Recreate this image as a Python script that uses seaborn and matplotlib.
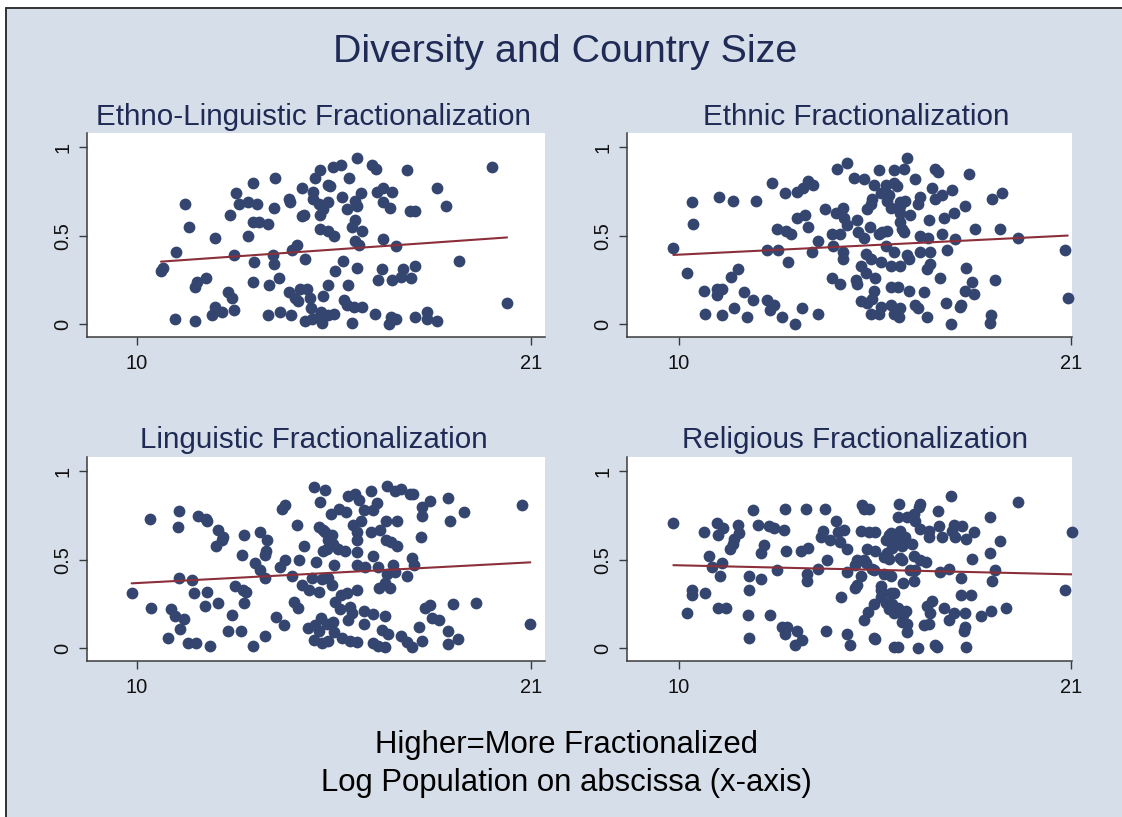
import matplotlib
matplotlib.use("Agg")
import matplotlib.pyplot as plt
from matplotlib.patches import Rectangle
from matplotlib.lines import Line2D
import seaborn as sns

# ---------------- data ----------------
elf_x = [10.67, 10.72, 11.08, 11.33, 11.44, 11.07, 11.63, 11.67, 11.63, 11.93,
         12.19, 12.08, 12.19, 12.36, 12.54, 12.65, 12.72, 12.72, 12.59, 12.77,
         12.84, 13.10, 13.35, 13.24, 13.10, 13.24, 13.40, 13.66, 13.24, 13.28,
         13.66, 13.68, 13.79, 13.83, 13.83, 13.86, 13.96, 14.00, 14.30, 14.23,
         14.28, 14.33, 14.48, 14.25, 14.42, 14.56, 14.75, 14.84, 14.50, 14.60,
         14.65, 14.62, 14.68, 14.70, 14.89, 15.07, 15.16, 14.87, 14.90, 14.90,
         15.07, 15.10, 15.10, 14.96, 15.10, 15.20, 19.91, 20.33, 19.00, 18.37,
         18.62, 17.53, 17.63, 17.75, 17.75, 17.43, 17.37, 17.13, 17.66, 16.88,
         17.22, 16.85, 16.74, 16.69, 16.88, 17.11, 16.88, 17.06, 16.65, 17.04,
         17.09, 17.22, 17.75, 18.10, 18.10, 18.37, 16.13, 16.57, 16.67, 15.93,
         15.48, 15.69, 15.33, 15.39, 15.73, 16.25, 16.09, 16.13, 15.85, 15.34,
         15.20, 16.09, 16.00, 16.27, 15.34, 15.51, 16.09, 16.20, 15.76, 15.53,
         16.13, 15.33, 15.88, 15.79, 15.85, 16.07, 16.28, 15.14, 15.34, 15.51,
         16.00]
elf_y = [0.30, 0.32, 0.41, 0.68, 0.55, 0.03, 0.02, 0.24, 0.21, 0.26,
         0.49, 0.05, 0.10, 0.07, 0.18, 0.15, 0.08, 0.39, 0.62, 0.74,
         0.68, 0.69, 0.68, 0.80, 0.50, 0.58, 0.58, 0.57, 0.24, 0.35,
         0.055, 0.22, 0.39, 0.34, 0.66, 0.83, 0.26, 0.07, 0.05, 0.71,
         0.69, 0.42, 0.45, 0.18, 0.15, 0.20, 0.20, 0.15, 0.13, 0.61,
         0.62, 0.77, 0.37, 0.02, 0.03, 0.04, 0.01, 0.09, 0.75, 0.71,
         0.68, 0.62, 0.54, 0.83, 0.87, 0.16, 0.89, 0.12, 0.36, 0.77,
         0.67, 0.87, 0.64, 0.64, 0.33, 0.31, 0.27, 0.25, 0.26, 0.48,
         0.44, 0.31, 0.25, 0.75, 0.77, 0.75, 0.69, 0.66, 0.06, 0.00,
         0.04, 0.03, 0.04, 0.07, 0.03, 0.02, 0.94, 0.90, 0.88, 0.83,
         0.89, 0.90, 0.79, 0.78, 0.72, 0.74, 0.70, 0.67, 0.65, 0.69,
         0.65, 0.59, 0.55, 0.53, 0.53, 0.50, 0.47, 0.45, 0.36, 0.30,
         0.32, 0.22, 0.22, 0.14, 0.11, 0.10, 0.10, 0.07, 0.05, 0.06,
         0.01]

eth_x = [9.84, 10.36, 10.38, 10.22, 10.71, 10.74, 11.06, 11.20, 11.06, 11.20,
         11.45, 11.64, 11.53, 11.12, 11.50, 11.81, 12.06, 11.90, 12.15, 12.46,
         12.65, 12.55, 12.89, 13.26, 13.45, 13.89, 12.46, 12.77, 13.05, 12.74,
         13.00, 13.15, 12.62, 12.98, 13.30, 13.47, 13.61, 13.75, 13.32, 13.54,
         13.63, 13.73, 13.89, 14.10, 14.29, 14.50, 14.32, 14.60, 14.60, 14.29,
         14.52, 14.42, 14.71, 14.40, 14.60, 14.50, 14.70, 20.90, 20.82, 19.51,
         19.00, 18.78, 19.06, 18.29, 18.85, 18.06, 18.22, 18.01, 18.27, 17.91,
         17.89, 18.74, 18.71, 18.13, 18.01, 17.71, 17.66, 17.38, 17.19, 17.10,
         17.19, 17.26, 17.43, 17.00, 17.38, 17.75, 17.52, 17.05, 16.77, 17.33,
         17.05, 16.96, 16.88, 16.63, 16.69, 16.96, 17.50, 17.63, 16.77, 16.99,
         16.77, 16.71, 16.49, 16.61, 16.40, 16.30, 16.02, 15.60, 14.92, 15.20,
         15.46, 15.79, 16.02, 16.11, 15.41, 15.65, 15.88, 15.37, 15.27, 15.83,
         16.19, 16.35, 15.93, 16.19, 16.20, 14.62, 14.98, 15.36, 16.20, 16.25,
         16.30, 15.01, 15.18, 15.60, 15.69, 15.82, 15.79, 16.02, 15.23, 15.39,
         15.65, 15.93, 16.19, 16.40, 16.45, 15.09, 15.23, 14.95, 15.00, 15.50,
         15.93, 16.13, 16.45, 15.46, 15.41, 15.09, 15.27, 15.65, 15.93, 15.37,
         15.60, 16.02, 16.16, 16.21]
eth_y = [0.43, 0.69, 0.57, 0.29, 0.19, 0.06, 0.20, 0.20, 0.165, 0.05,
         0.265, 0.31, 0.09, 0.72, 0.70, 0.18, 0.14, 0.04, 0.70, 0.14,
         0.11, 0.08, 0.04, 0.00, 0.09, 0.06, 0.42, 0.42, 0.35, 0.54,
         0.53, 0.51, 0.80, 0.74, 0.75, 0.77, 0.81, 0.79, 0.60, 0.62,
         0.55, 0.41, 0.47, 0.65, 0.51, 0.51, 0.44, 0.41, 0.37, 0.26,
         0.225, 0.88, 0.91, 0.63, 0.66, 0.63, 0.56, 0.15, 0.42, 0.49,
         0.54, 0.71, 0.74, 0.54, 0.25, 0.32, 0.24, 0.19, 0.17, 0.11,
         0.10, 0.05, 0.01, 0.85, 0.67, 0.63, 0.76, 0.73, 0.71, 0.77,
         0.88, 0.86, 0.60, 0.59, 0.51, 0.48, 0.42, 0.41, 0.41, 0.26,
         0.34, 0.31, 0.18, 0.11, 0.09, 0.04, 0.12, 0.00, 0.50, 0.49,
         0.72, 0.68, 0.62, 0.82, 0.94, 0.88, 0.87, 0.87, 0.83, 0.82,
         0.79, 0.79, 0.80, 0.78, 0.71, 0.74, 0.73, 0.68, 0.65, 0.70,
         0.69, 0.70, 0.66, 0.67, 0.63, 0.60, 0.59, 0.55, 0.58, 0.54,
         0.52, 0.52, 0.49, 0.51, 0.52, 0.53, 0.44, 0.41, 0.40, 0.37,
         0.35, 0.33, 0.33, 0.39, 0.37, 0.33, 0.29, 0.25, 0.23, 0.26,
         0.21, 0.21, 0.19, 0.19, 0.145, 0.13, 0.12, 0.10, 0.11, 0.06,
         0.06, 0.06, 0.04, 0.09]

lng_x = [9.85, 10.36, 10.39, 10.86, 10.95, 11.06, 11.32, 11.20, 11.18, 11.14,
         11.17, 11.53, 11.60, 11.96, 11.90, 12.27, 11.43, 11.65, 12.05, 11.69,
         11.94, 11.96, 12.27, 12.41, 12.37, 12.20, 12.64, 12.53, 12.89, 13.23,
         13.56, 12.94, 13.00, 13.42, 13.62, 13.60, 13.58, 13.30, 13.44, 13.56,
         12.74, 12.97, 13.04, 12.98, 13.87, 14.09, 13.99, 14.13, 14.04, 14.13,
         14.46, 14.32, 14.37, 14.49, 14.52, 14.67, 14.60, 14.80, 15.07, 14.88,
         15.16, 14.95, 15.11, 15.07, 15.18, 15.00, 15.20, 14.77, 14.97, 15.14,
         15.07, 14.95, 15.16, 15.25, 20.74, 20.98, 19.47, 18.81, 19.14, 18.74,
         18.68, 18.17, 17.97, 17.97, 17.93, 17.67, 17.72, 17.53, 17.62, 17.70,
         17.20, 17.36, 16.97, 16.54, 16.69, 16.60, 16.35, 16.96, 17.25, 16.79,
         16.54, 16.96, 17.10, 17.25, 16.58, 16.74, 17.16, 17.20, 16.97, 16.93,
         16.76, 17.07, 18.03, 18.19, 18.23, 18.42, 17.88, 17.95, 18.68, 18.96,
         18.68, 17.37, 17.53, 17.67, 16.83, 17.02, 16.93, 16.93, 16.35, 16.60,
         16.35, 16.60, 16.72, 16.13, 15.86, 15.70, 15.53, 15.67, 15.95, 15.99,
         15.90, 16.13, 16.37, 15.49, 15.34, 15.43, 15.25, 15.44, 15.34, 15.48,
         15.30, 15.62, 15.81, 16.13, 15.42, 15.64, 15.83, 16.04, 16.13, 16.25,
         16.13, 15.88, 16.09, 16.20, 15.30, 15.48, 15.49, 15.34, 15.72, 15.95,
         16.13]
lng_y = [0.31, 0.73, 0.23, 0.06, 0.22, 0.18, 0.165, 0.11, 0.775, 0.685,
         0.395, 0.385, 0.315, 0.32, 0.24, 0.255, 0.03, 0.03, 0.015, 0.75,
         0.73, 0.72, 0.67, 0.63, 0.61, 0.58, 0.19, 0.095, 0.095, 0.015,
         0.07, 0.53, 0.64, 0.66, 0.61, 0.55, 0.53, 0.48, 0.44, 0.40,
         0.35, 0.33, 0.32, 0.255, 0.175, 0.13, 0.46, 0.50, 0.79, 0.81,
         0.70, 0.41, 0.26, 0.23, 0.50, 0.58, 0.36, 0.33, 0.32, 0.395,
         0.39, 0.91, 0.83, 0.685, 0.67, 0.49, 0.55, 0.114, 0.13, 0.17,
         0.095, 0.045, 0.03, 0.895, 0.81, 0.14, 0.255, 0.25, 0.77, 0.72,
         0.85, 0.835, 0.80, 0.75, 0.63, 0.51, 0.47, 0.41, 0.87, 0.87,
         0.89, 0.90, 0.92, 0.89, 0.82, 0.78, 0.78, 0.72, 0.72, 0.67,
         0.66, 0.61, 0.60, 0.58, 0.52, 0.46, 0.47, 0.43, 0.42, 0.37,
         0.34, 0.34, 0.23, 0.245, 0.17, 0.16, 0.12, 0.04, 0.095, 0.055,
         0.025, 0.07, 0.035, 0.01, 0.105, 0.08, 0.01, 0.18, 0.21, 0.195,
         0.14, 0.03, 0.015, 0.33, 0.31, 0.30, 0.26, 0.22, 0.235, 0.20,
         0.16, 0.47, 0.46, 0.47, 0.40, 0.36, 0.66, 0.64, 0.61, 0.59,
         0.56, 0.56, 0.55, 0.545, 0.76, 0.79, 0.77, 0.70, 0.66, 0.72,
         0.61, 0.86, 0.87, 0.84, 0.14, 0.146, 0.09, 0.04, 0.058, 0.04,
         0.034]

rel_x = [9.84, 10.22, 10.36, 10.36, 10.73, 10.71, 10.85, 10.92, 11.20, 11.15,
         11.06, 11.23, 11.10, 11.64, 11.67, 11.53, 11.51, 11.44, 11.10, 11.32,
         11.93, 11.97, 11.97, 11.97, 12.29, 12.06, 12.21, 12.51, 12.65, 12.95,
         12.39, 12.29, 12.74, 12.98, 13.00, 12.56, 12.88, 13.04, 12.98, 13.30,
         13.45, 13.26, 13.42, 13.63, 13.57, 13.59, 13.60, 13.89, 14.10, 14.13,
         14.05, 13.98, 14.24, 14.15, 14.41, 14.47, 14.62, 14.54, 14.71, 14.71,
         14.78, 14.50, 14.70, 21.01, 20.82, 19.51, 19.00, 18.72, 18.72, 18.85,
         18.78, 19.18, 18.74, 18.46, 18.22, 18.27, 18.04, 17.94, 17.71, 17.75,
         17.66, 17.64, 17.26, 17.28, 17.38, 17.00, 17.00, 17.92, 18.19, 17.91,
         17.57, 17.31, 17.44, 17.70, 18.03, 17.57, 18.01, 17.99, 18.06, 17.24,
         17.19, 16.70, 17.10, 16.96, 17.05, 17.00, 16.86, 16.77, 16.72, 16.16,
         16.13, 16.40, 16.60, 16.63, 16.77, 16.54, 16.60, 16.77, 16.93, 16.63,
         16.58, 16.28, 16.49, 16.21, 16.26, 16.04, 16.13, 16.37, 16.28, 16.24,
         16.40, 16.40, 16.13, 16.02, 15.46, 15.50, 15.18, 15.30, 15.46, 15.79,
         15.88, 16.02, 15.65, 15.67, 15.93, 14.94, 14.98, 14.94, 15.09, 15.46,
         15.74, 15.93, 15.23, 14.98, 15.18, 15.41, 15.27, 15.50, 15.74, 15.83,
         15.88, 15.97, 15.09, 15.32, 15.50, 15.88, 16.07, 16.21, 16.35, 15.79,
         16.26, 15.93, 16.19, 15.13, 15.32, 15.18, 15.65, 15.97]
rel_y = [0.71, 0.20, 0.33, 0.30, 0.31, 0.66, 0.52, 0.46, 0.48, 0.41,
         0.71, 0.68, 0.64, 0.70, 0.65, 0.62, 0.59, 0.56, 0.23, 0.23,
         0.19, 0.06, 0.41, 0.33, 0.39, 0.78, 0.70, 0.69, 0.68, 0.67,
         0.585, 0.54, 0.44, 0.79, 0.55, 0.19, 0.12, 0.12, 0.08, 0.10,
         0.045, 0.017, 0.55, 0.57, 0.79, 0.42, 0.38, 0.45, 0.79, 0.10,
         0.665, 0.63, 0.61, 0.50, 0.72, 0.66, 0.67, 0.29, 0.43, 0.083,
         0.017, 0.60, 0.56, 0.66, 0.33, 0.825, 0.605, 0.74, 0.54, 0.44,
         0.38, 0.23, 0.21, 0.18, 0.505, 0.655, 0.62, 0.69, 0.70, 0.63,
         0.665, 0.86, 0.775, 0.69, 0.63, 0.63, 0.665, 0.40, 0.30, 0.30,
         0.45, 0.43, 0.23, 0.20, 0.20, 0.16, 0.12, 0.10, 0.01, 0.01,
         0.017, 0.004, 0.27, 0.24, 0.20, 0.14, 0.13, 0.815, 0.80, 0.815,
         0.74, 0.74, 0.76, 0.72, 0.675, 0.59, 0.52, 0.50, 0.49, 0.44,
         0.38, 0.37, 0.44, 0.51, 0.50, 0.31, 0.23, 0.21, 0.19, 0.15,
         0.14, 0.09, 0.008, 0.01, 0.06, 0.05, 0.16, 0.205, 0.25, 0.255,
         0.22, 0.20, 0.355, 0.33, 0.31, 0.34, 0.36, 0.47, 0.41, 0.44,
         0.42, 0.41, 0.48, 0.50, 0.50, 0.45, 0.56, 0.55, 0.515, 0.54,
         0.505, 0.57, 0.665, 0.655, 0.655, 0.64, 0.62, 0.61, 0.63, 0.61,
         0.58, 0.65, 0.665, 0.81, 0.79, 0.79, 0.29, 0.25]

panel_titles = ["Ethno-Linguistic Fractionalization", "Ethnic Fractionalization",
                "Linguistic Fractionalization", "Religious Fractionalization"]
main_title = "Diversity and Country Size"
note_lines = ["Higher=More Fractionalized", "Log Population on abscissa (x-axis)"]
x_ticks = [10, 21]
y_ticks = [0, 0.5, 1]
y_tick_labels = ["0", "0.5", "1"]

# ---------------- style ----------------
sns.set_style("white")
plt.rcParams["font.family"] = ["Liberation Sans", "DejaVu Sans"]

BG = "#d6deea"
DOT = "#34466f"
FIT = "#8b2f3a"
TITLE_C = "#1f2a55"
AX_C = "#3a3a3a"

W, H = 1122, 817
fig = plt.figure(figsize=(W / 100, H / 100), dpi=100, facecolor="white")

# graph region background + border (left & top)
fig.patches.append(Rectangle((5.5 / W, 0), 1, 1 - 7.5 / H, transform=fig.transFigure,
                             facecolor=BG, edgecolor="none", zorder=-10))
fig.lines.append(Line2D([5.5 / W, 5.5 / W], [0, 1 - 7.5 / H], transform=fig.transFigure,
                        color="#333333", lw=1.4, zorder=-5))
fig.lines.append(Line2D([5.5 / W, 1], [1 - 7.5 / H, 1 - 7.5 / H], transform=fig.transFigure,
                        color="#333333", lw=1.4, zorder=-5))

def ax_rect(l, r, t, b):
    return [l / W, 1 - b / H, (r - l) / W, (b - t) / H]

panels = [
    (elf_x, elf_y, ax_rect(87, 545, 133, 337), (8.604, 21.39), (313, 117)),
    (eth_x, eth_y, ax_rect(627, 1072, 133, 337), (8.54, 21.02), (856, 117)),
    (lng_x, lng_y, ax_rect(87, 545, 457, 661), (8.604, 21.39), (314, 440)),
    (rel_x, rel_y, ax_rect(627, 1072, 457, 661), (8.54, 21.02), (855, 440)),
]

for (xs, ys, rect, xl, tpos), ttl in zip(panels, panel_titles):
    ax = fig.add_axes(rect)
    ax.set_zorder(1)
    ax.set_facecolor("white")
    sns.regplot(x=xs, y=ys, ax=ax, ci=None,
                scatter_kws=dict(s=72, color=DOT, linewidths=0, alpha=1, zorder=2,
                                 clip_on=False),
                line_kws=dict(color=FIT, lw=1.5, zorder=3))
    ax.set_xlim(*xl)
    ax.set_ylim(-0.072, 1.082)
    ax.set_xticks(x_ticks)
    ax.set_xticklabels([str(t) for t in x_ticks])
    ax.set_yticks(y_ticks)
    ax.set_yticklabels(y_tick_labels, rotation=90, va="center")
    ax.set_xlabel("")
    ax.set_ylabel("")
    for side in ["top", "right"]:
        ax.spines[side].set_visible(False)
    for side in ["left", "bottom"]:
        ax.spines[side].set_color(AX_C)
        ax.spines[side].set_linewidth(1.1)
    ax.tick_params(axis="both", direction="out", length=5.5, width=1.0,
                   color=AX_C, labelsize=14.5, labelcolor="#111111", pad=5)
    ax.tick_params(axis="x", pad=7, bottom=True)
    ax.tick_params(axis="y", left=True)
    fig.text(tpos[0] / W, 1 - tpos[1] / H, ttl, ha="center", va="center",
             fontsize=21.3, color=TITLE_C)

fig.text(565 / W, 1 - 52 / H, main_title, ha="center", va="center",
         fontsize=28.4, color=TITLE_C)
fig.text(566 / W, 1 - 745 / H, note_lines[0], ha="center", va="center",
         fontsize=22.4, color="black")
fig.text(566 / W, 1 - 783 / H, note_lines[1], ha="center", va="center",
         fontsize=22.4, color="black")

fig.savefig("out.png", dpi=100, facecolor="white")
